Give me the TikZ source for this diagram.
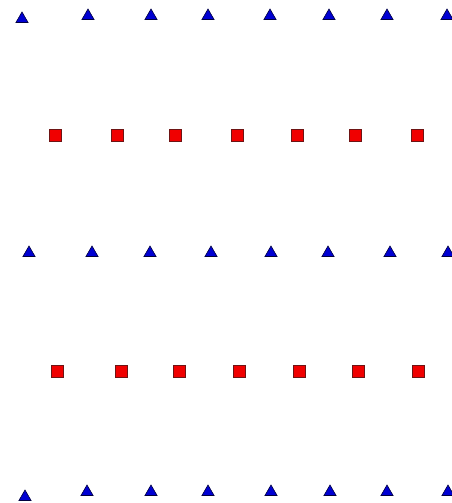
\documentclass[tikz,border=0pt]{standalone}
\usetikzlibrary{shapes.geometric}
\definecolor{triblue}{RGB}{0,0,210}
\definecolor{sqred}{RGB}{240,0,0}
\definecolor{sqedge}{RGB}{110,20,20}
\tikzset{
  tri/.style={regular polygon, regular polygon sides=3, minimum size=14pt, inner sep=0pt,
    fill=triblue, draw=black!70!triblue, line width=0.6pt},
  sq/.style={rectangle, minimum size=12pt, inner sep=0pt, fill=sqred, draw=sqedge, line width=0.8pt}
}
\begin{document}
\begin{tikzpicture}[x=1pt,y=-1pt]
\useasboundingbox (0,0) rectangle (452,503);
\clip (0,0) rectangle (452,503);
% row 1 triangles
\foreach \x/\y [count=\i] in {22/19,88/16,151/16,208/16,270/16,329/16,387/16,447/16}
  \node[tri] (a\i) at (\x,\y) {};
% row 2 squares
\foreach \x [count=\i] in {55,117,175,237,297,355,417}
  \node[sq] (b\i) at (\x,135) {};
% row 3 triangles
\foreach \x [count=\i] in {29,92,150,211,271,328,390,448}
  \node[tri] (c\i) at (\x,253) {};
% row 4 squares
\foreach \x [count=\i] in {57,121,179,239,299,358,418}
  \node[sq] (d\i) at (\x,371) {};
% row 5 triangles
\foreach \x/\y [count=\i] in {25/497,87/492,151/492,208/492,271/492,330/492,387/492,448/492}
  \node[tri] (e\i) at (\x,\y) {};
\end{tikzpicture}
\end{document}
